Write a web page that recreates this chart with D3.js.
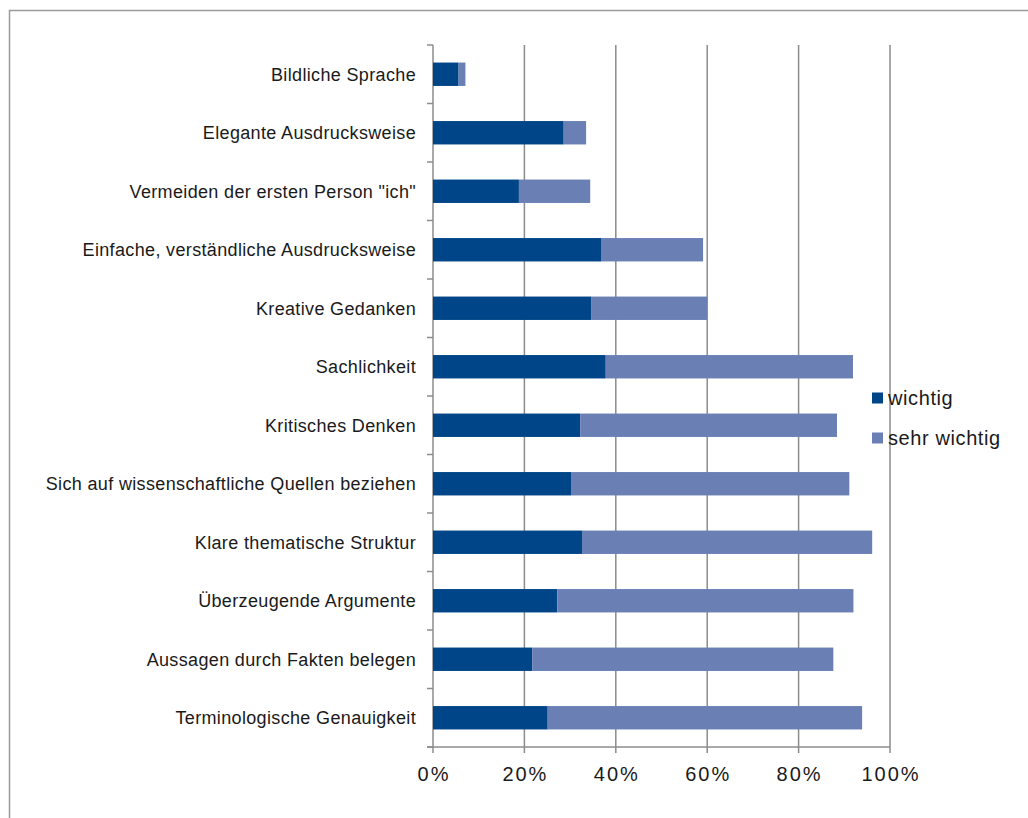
<!DOCTYPE html>
<html>
<head>
<meta charset="utf-8">
<script src="https://cdn.jsdelivr.net/npm/d3@7"></script>
<style>
  body { margin: 0; background: #fff; }
  svg { display: block; font-family: "Liberation Sans", Arial, sans-serif; }
</style>
</head>
<body>
<div id="chart-area"></div>
<script>
// categories top to bottom
const categories = [
  "Bildliche Sprache",
  "Elegante Ausdrucksweise",
  "Vermeiden der ersten Person \"ich\"",
  "Einfache, verständliche Ausdrucksweise",
  "Kreative Gedanken",
  "Sachlichkeit",
  "Kritisches Denken",
  "Sich auf wissenschaftliche Quellen beziehen",
  "Klare thematische Struktur",
  "Überzeugende Argumente",
  "Aussagen durch Fakten belegen",
  "Terminologische Genauigkeit"
];

// percent of answers
const wichtig =     [5.6, 28.6, 18.8, 36.9, 34.7, 37.8, 32.2, 30.2, 32.6, 27.2, 21.7, 25.1];
const sehrWichtig = [1.5,  4.9, 15.6, 22.2, 25.3, 54.1, 56.2, 60.9, 63.5, 64.8, 65.9, 68.8];

const seriesNames = ["wichtig", "sehr wichtig"];
const xTicks = [0, 20, 40, 60, 80, 100];

let svgW = 1028;
let svgH = 818;

let margin = { left: 433, right: 138, top: 45, bottom: 71 };

const colors = ["#004587", "#6a80b5"];
const gridColor = "#8c8c8c";

let svg = d3.select("#chart-area")
  .append("svg")
  .attr("width", svgW)
  .attr("height", svgH)

// outer frame (runs off the right and bottom edge)
svg.append("rect")
  .attr("x", 9.5)
  .attr("y", 10.5)
  .attr("width", 1100)
  .attr("height", 900)
  .attr("fill", "none")
  .attr("stroke", "#9a9a9a")
  .attr("stroke-width", 1.5)

let x = d3.scaleLinear()
  .domain([0, 100])
  .range([margin.left, svgW - margin.right])

let y = d3.scaleBand()
  .domain(categories)
  .range([margin.top, svgH - margin.bottom])
  .paddingInner(0.6)
  .paddingOuter(0.3)

let yTop = margin.top;
let yBottom = svgH - margin.bottom;

// vertical gridlines, running a little below the axis as ticks
svg.append("g")
  .selectAll("line")
  .data(xTicks)
  .join("line")
  .attr("x1", d => x(d))
  .attr("x2", d => x(d))
  .attr("y1", yTop)
  .attr("y2", yBottom + 6)
  .attr("stroke", gridColor)
  .attr("stroke-width", 1.5)

// category boundary ticks on the left axis
let bounds = d3.range(categories.length + 1).map(i => yTop + i * (yBottom - yTop) / categories.length);
svg.append("g")
  .selectAll("line")
  .data(bounds)
  .join("line")
  .attr("x1", x(0) - 6)
  .attr("x2", x(0))
  .attr("y1", d => d)
  .attr("y2", d => d)
  .attr("stroke", gridColor)
  .attr("stroke-width", 1.5)

// bottom axis line
svg.append("line")
  .attr("x1", x(0) - 6)
  .attr("x2", x(100))
  .attr("y1", yBottom)
  .attr("y2", yBottom)
  .attr("stroke", gridColor)
  .attr("stroke-width", 1.5)

// stacked bars
let stackData = categories.map((c, i) => ({ cat: c, a: wichtig[i], b: sehrWichtig[i] }));

let rows = svg.append("g")
  .selectAll("g")
  .data(stackData)
  .join("g")

rows.append("rect")
  .attr("x", x(0))
  .attr("y", d => y(d.cat))
  .attr("width", d => x(d.a) - x(0))
  .attr("height", y.bandwidth())
  .attr("fill", colors[0])

rows.append("rect")
  .attr("x", d => x(d.a))
  .attr("y", d => y(d.cat))
  .attr("width", d => x(d.a + d.b) - x(d.a))
  .attr("height", y.bandwidth())
  .attr("fill", colors[1])

// category labels
svg.append("g")
  .selectAll("text")
  .data(categories)
  .join("text")
  .attr("x", 416)
  .attr("y", d => y(d) + y.bandwidth() / 2)
  .attr("dy", "0.35em")
  .attr("text-anchor", "end")
  .attr("font-size", 18)
  .attr("letter-spacing", 0.35)
  .attr("fill", "#1a1a1a")
  .text(d => d)

// x tick labels
svg.append("g")
  .selectAll("text")
  .data(xTicks)
  .join("text")
  .attr("x", d => x(d) + 1)
  .attr("y", yBottom + 34)
  .attr("text-anchor", "middle")
  .attr("font-size", 20)
  .attr("letter-spacing", 2)
  .attr("fill", "#1a1a1a")
  .text(d => d + "%")

// legend
let legend = svg.append("g")
  .selectAll("g")
  .data(seriesNames)
  .join("g")
  .attr("transform", (d, i) => `translate(872, ${398 + i * 40})`)

legend.append("rect")
  .attr("x", 0)
  .attr("y", -5.5)
  .attr("width", 11)
  .attr("height", 11)
  .attr("fill", (d, i) => colors[i])

legend.append("text")
  .attr("x", 16)
  .attr("y", 0)
  .attr("dy", "0.35em")
  .attr("font-size", 20)
  .attr("letter-spacing", 0.6)
  .attr("fill", "#1a1a1a")
  .text(d => d)
</script>
</body>
</html>
